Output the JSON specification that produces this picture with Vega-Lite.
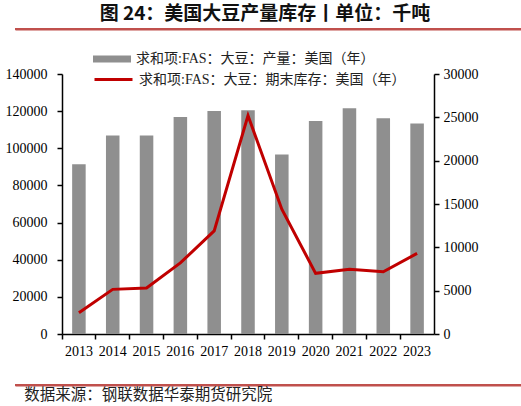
{
  "$schema": "https://vega.github.io/schema/vega-lite/v6.json",
  "background": "white",
  "padding": 5,
  "title": {
    "text": "图 24：美国大豆产量库存丨单位：千吨",
    "anchor": "middle",
    "font": "Noto Sans CJK SC",
    "fontSize": 19,
    "fontWeight": "bold",
    "color": "#111111",
    "offset": 2
  },
  "datasets": {
    "soy": [
      {"year": "2013", "output": 91400, "stock": 2450},
      {"year": "2014", "output": 106900, "stock": 5150},
      {"year": "2015", "output": 106900, "stock": 5300},
      {"year": "2016", "output": 116900, "stock": 8200},
      {"year": "2017", "output": 120100, "stock": 11900},
      {"year": "2018", "output": 120500, "stock": 25200},
      {"year": "2019", "output": 96700, "stock": 14400},
      {"year": "2020", "output": 114700, "stock": 7000},
      {"year": "2021", "output": 121500, "stock": 7470},
      {"year": "2022", "output": 116200, "stock": 7180},
      {"year": "2023", "output": 113300, "stock": 9300}
    ],
    "divider": [{"pos": 0}]
  },
  "center": true,
  "spacing": 8,
  "resolve": {
    "scale": {"fill": "independent", "stroke": "independent"},
    "legend": {"fill": "independent", "stroke": "independent"}
  },
  "vconcat": [
    {
      "data": {"name": "divider"},
      "width": 510,
      "height": 2,
      "view": {"stroke": null, "fill": "#c0504d"},
      "mark": {"type": "point", "opacity": 0},
      "encoding": {
        "x": {
          "field": "pos",
          "type": "quantitative",
          "scale": {"domain": [0, 1]},
          "axis": {"orient": "bottom", "title": null, "labels": false, "ticks": false, "domainColor": "#c0504d", "domainWidth": 2, "offset": -1}
        }
      }
    },
    {
      "data": {"name": "soy"},
      "width": 372,
      "height": 260,
      "view": {"stroke": null},
      "encoding": {
        "x": {
          "field": "year",
          "type": "ordinal",
          "scale": {"paddingInner": 0, "paddingOuter": 0},
          "axis": {
            "title": " ",
            "titleFontSize": 17,
            "titlePadding": 0,
            "labelAngle": 0,
            "bandPosition": 0,
            "labelPadding": 5,
            "tickSize": 5
          }
        }
      },
      "layer": [
        {
          "mark": {"type": "bar", "width": {"band": 0.4}},
          "encoding": {
            "y": {
              "field": "output",
              "type": "quantitative",
              "title": null,
              "scale": {"domain": [0, 140000], "nice": false},
              "axis": {
                "orient": "left",
                "values": [0, 20000, 40000, 60000, 80000, 100000, 120000, 140000],
                "format": "d",
                "labelPadding": 10
              }
            },
            "fill": {
              "datum": "求和项:FAS：大豆：产量：美国（年）",
              "type": "nominal",
              "scale": {"range": ["#8f8f8f"]},
              "legend": {
                "orient": "none",
                "legendX": 31,
                "legendY": -34,
                "title": null,
                "symbolType": "M-1,-0.18H1V0.18H-1Z",
                "symbolSize": 1444,
                "symbolStrokeWidth": 0
              }
            }
          }
        },
        {
          "mark": {"type": "line", "strokeWidth": 3},
          "encoding": {
            "y": {
              "field": "stock",
              "type": "quantitative",
              "title": null,
              "scale": {"domain": [0, 30000], "nice": false},
              "axis": {
                "orient": "right",
                "values": [0, 5000, 10000, 15000, 20000, 25000, 30000],
                "format": "d",
                "labelPadding": 4
              }
            },
            "stroke": {
              "datum": "求和项:FAS：大豆：期末库存：美国（年）",
              "type": "nominal",
              "scale": {"range": ["#c00000"]},
              "legend": {
                "orient": "none",
                "legendX": 31,
                "legendY": -15,
                "title": null,
                "symbolType": "stroke",
                "symbolSize": 1444,
                "symbolStrokeWidth": 3
              }
            }
          }
        }
      ],
      "resolve": {"scale": {"y": "independent"}}
    },
    {
      "data": {"name": "divider"},
      "width": 510,
      "height": 2,
      "view": {"stroke": null, "fill": "#c0504d"},
      "mark": {"type": "point", "opacity": 0},
      "encoding": {
        "x": {
          "field": "pos",
          "type": "quantitative",
          "scale": {"domain": [0, 1]},
          "axis": {"orient": "top", "title": null, "labels": false, "ticks": false, "domainColor": "#c0504d", "domainWidth": 2, "offset": -1}
        }
      },
      "title": {
        "text": "数据来源：钢联数据华泰期货研究院",
        "orient": "bottom",
        "anchor": "start",
        "dx": 12,
        "offset": 0.5,
        "font": "Noto Sans CJK SC",
        "fontSize": 15.5,
        "fontWeight": "normal",
        "color": "#222222"
      }
    }
  ],
  "config": {
    "axis": {
      "grid": false,
      "domainColor": "#000000",
      "domainWidth": 1.5,
      "tickColor": "#000000",
      "tickWidth": 1.5,
      "tickSize": 5,
      "labelFont": "Liberation Serif",
      "labelFontSize": 14,
      "labelColor": "#000000"
    },
    "legend": {
      "labelFont": "Liberation Serif, Noto Sans CJK SC",
      "labelFontSize": 14,
      "labelColor": "#222222",
      "labelOffset": 5,
      "labelLimit": 0
    }
  }
}
